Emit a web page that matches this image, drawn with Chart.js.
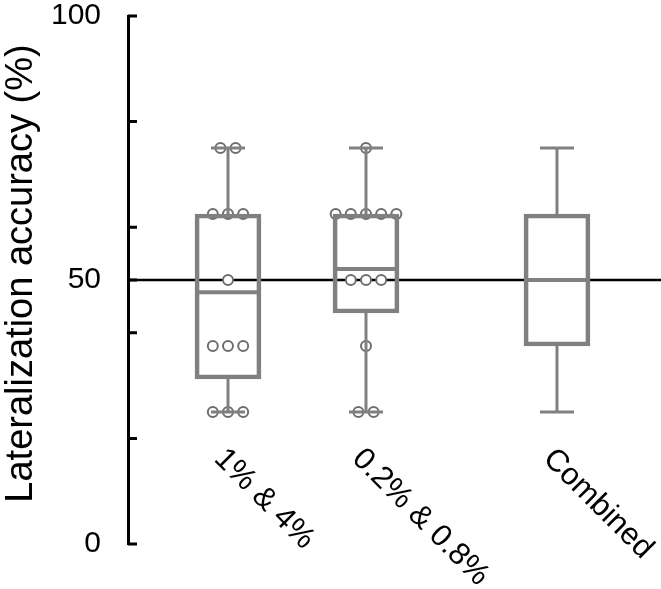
<!DOCTYPE html>
<html>
<head>
<meta charset="utf-8">
<script src="https://cdn.jsdelivr.net/npm/chart.js@4.4.1/dist/chart.umd.min.js"></script>
<style>
html,body{margin:0;padding:0;background:#ffffff;}
canvas{display:block;}
</style>
</head>
<body>
<canvas id="c" width="661" height="589"></canvas>
<script>
// ---------- data ----------
const categories = ['1% & 4%', '0.2% & 0.8%', 'Combined'];
const boxMin    = [25, 25, 25];
const boxQ1     = [31.25, 43.75, 37.5];
const boxMedian = [47.7, 52.1, 50];
const boxQ3     = [62.5, 62.5, 62.5];
const boxMax    = [75, 75, 75];
const pointsGroup1 = [75, 75, 62.5, 62.5, 62.5, 50, 37.5, 37.5, 37.5, 25, 25, 25];
const pointsGroup2 = [75, 62.5, 62.5, 62.5, 62.5, 62.5, 50, 50, 50, 37.5, 25, 25];
const pointsCombined = [];
const chanceLevel = 50;
const yTickValues = [0, 20, 40, 50, 60, 80, 100];
const yTickLabels = [0, 50, 100];
const yTitle = 'Lateralization accuracy (%)';

// ---------- layout / style ----------
const groupPos = [1, 2, 3.384];
const X_MIN = 0.2754, X_MAX = 4.1377;
const DOT_SPACING = 0.11;
const GRAY = '#808080';
const DOT = '#6e6e6e';
const FONT = '"Liberation Sans", Arial, Helvetica, sans-serif';

const pointsByGroup = [pointsGroup1, pointsGroup2, pointsCombined];
const dotData = [];
pointsByGroup.forEach((vals, g) => {
  const counts = {};
  vals.forEach(v => { counts[v] = (counts[v] || 0) + 1; });
  const seen = {};
  vals.forEach(v => {
    const n = counts[v];
    const k = seen[v] = (seen[v] === undefined ? 0 : seen[v] + 1);
    dotData.push({ x: groupPos[g] + (k - (n - 1) / 2) * DOT_SPACING, y: v });
  });
});

const boxData = categories.map((c, i) => ({ x: groupPos[i], y: [boxQ1[i], boxQ3[i]] }));

const chancePlugin = {
  id: 'chance',
  beforeDatasetsDraw(chart) {
    const { ctx, chartArea, scales } = chart;
    const y = scales.y.getPixelForValue(chanceLevel);
    ctx.save();
    ctx.strokeStyle = '#000';
    ctx.lineWidth = 2.5;
    ctx.beginPath();
    ctx.moveTo(chartArea.left, y);
    ctx.lineTo(chartArea.right, y);
    ctx.stroke();
    ctx.restore();
  }
};

const boxPlugin = {
  id: 'boxparts',
  afterDatasetsDraw(chart) {
    const { ctx, scales } = chart;
    const xs = scales.x, ys = scales.y;
    ctx.save();
    ctx.strokeStyle = GRAY;
    ctx.lineCap = 'butt';
    categories.forEach((c, i) => {
      const x = xs.getPixelForValue(groupPos[i]);
      const yMin = ys.getPixelForValue(boxMin[i]);
      const yQ1 = ys.getPixelForValue(boxQ1[i]);
      const yMed = ys.getPixelForValue(boxMedian[i]);
      const yQ3 = ys.getPixelForValue(boxQ3[i]);
      const yMax = ys.getPixelForValue(boxMax[i]);
      ctx.lineWidth = 3;
      ctx.beginPath();
      ctx.moveTo(x, yQ3); ctx.lineTo(x, yMax);
      ctx.moveTo(x, yQ1); ctx.lineTo(x, yMin);
      ctx.moveTo(x - 17, yMax); ctx.lineTo(x + 17, yMax);
      ctx.moveTo(x - 17, yMin); ctx.lineTo(x + 17, yMin);
      ctx.stroke();
      ctx.lineWidth = 4;
      ctx.beginPath();
      ctx.moveTo(x - 31, yMed); ctx.lineTo(x + 31, yMed);
      ctx.stroke();
    });
    ctx.restore();
  },
  afterDraw(chart) {
    const { ctx, chartArea, scales } = chart;
    const ys = scales.y, xs = scales.x;
    ctx.save();
    // inward tick marks
    ctx.strokeStyle = '#000';
    ctx.lineWidth = 3;
    ctx.beginPath();
    ys.ticks.forEach(t => {
      const y = ys.getPixelForValue(t.value);
      ctx.moveTo(chartArea.left, y);
      ctx.lineTo(chartArea.left + 9, y);
    });
    ctx.stroke();
    // y-axis title
    ctx.fillStyle = '#000';
    ctx.font = '38px ' + FONT;
    ctx.textAlign = 'center';
    ctx.textBaseline = 'middle';
    ctx.save();
    ctx.translate(22, (chartArea.top + chartArea.bottom) / 2 - 6.5);
    ctx.rotate(-Math.PI / 2);
    ctx.fillText(yTitle, 0, 0);
    ctx.restore();
    // rotated category labels
    ctx.font = '31px ' + FONT;
    ctx.textAlign = 'left';
    ctx.textBaseline = 'alphabetic';
    categories.forEach((c, i) => {
      const x = xs.getPixelForValue(groupPos[i]) - 15;
      const y = chartArea.bottom - 84;
      ctx.save();
      ctx.translate(x, y);
      ctx.rotate(Math.PI / 4);
      ctx.fillText(c, 0, 0);
      ctx.restore();
    });
    ctx.restore();
  }
};

new Chart(document.getElementById('c'), {
  type: 'bar',
  data: {
    datasets: [
      {
        type: 'bar',
        data: boxData,
        backgroundColor: 'rgba(0,0,0,0)',
        borderColor: GRAY,
        borderWidth: 4,
        borderSkipped: false,
        barThickness: 66,
        grouped: false,
        order: 0
      },
      {
        type: 'scatter',
        data: dotData,
        pointRadius: 5,
        pointBorderWidth: 2,
        pointBackgroundColor: '#ffffff',
        pointBorderColor: DOT,
        order: 1
      }
    ]
  },
  options: {
    responsive: false,
    animation: false,
    layout: { autoPadding: false, padding: { left: 0, right: 0, top: 16, bottom: 45 } },
    plugins: { legend: { display: false }, tooltip: { enabled: false } },
    scales: {
      x: {
        type: 'linear',
        min: X_MIN,
        max: X_MAX,
        offset: false,
        display: false
      },
      y: {
        type: 'linear',
        min: 0,
        max: 100,
        afterBuildTicks(scale) { scale.ticks = yTickValues.map(v => ({ value: v })); },
        afterFit(scale) { scale.width = 128; },
        grid: { display: true, drawOnChartArea: false, drawTicks: true, tickLength: 27, color: 'rgba(0,0,0,0)' },
        border: { display: true, color: '#000', width: 3 },
        ticks: {
          autoSkip: false,
          padding: 0,
          color: '#000',
          font: { family: FONT, size: 30, lineHeight: 1 },
          callback: (v) => yTickLabels.includes(v) ? String(v) : ''
        },
        title: { display: false }
      }
    }
  },
  plugins: [chancePlugin, boxPlugin]
});
</script>
</body>
</html>
